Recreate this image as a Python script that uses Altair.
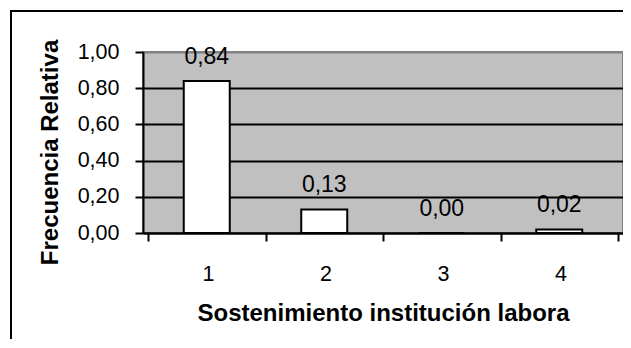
import altair as alt
import pandas as pd

categories = [1, 2, 3, 4]
values = [0.84, 0.13, 0.00, 0.02]
y_ticks = [0.0, 0.2, 0.4, 0.6, 0.8, 1.0]
x_ticks = [0.5, 1.5, 2.5, 3.5, 4.5]

df = pd.DataFrame({"cat": categories, "val": values})
FONT = "Liberation Sans"

base = alt.Chart(df).transform_calculate(
    label="replace(format(datum.val, '.2f'), '.', ',')"
)

x_enc = alt.X(
    "cat:Q",
    scale=alt.Scale(domain=[0.5, 4.5], nice=False, zero=False),
    axis=alt.Axis(
        values=x_ticks,
        tickCount=20,
        grid=False,
        labelExpr="datum.value < 4 ? format(datum.value + 0.5, 'd') : ''",
        labelOffset=60,
        labelPadding=22,
        labelFlush=False,
        labelOverlap=False,
        title="Sostenimiento institución labora",
        titleX=240,
        titleY=87,
        titleAlign="center",
        titleBaseline="alphabetic",
    ),
)
y_enc = alt.Y(
    "val:Q",
    scale=alt.Scale(domain=[0, 1], nice=False),
    axis=alt.Axis(
        values=y_ticks,
        tickCount=20,
        grid=True,
        gridColor={"condition": {"test": "datum.value >= 1", "value": "#808080"}, "value": "#000000"},
        gridWidth=2,
        labelExpr="replace(format(datum.value, '.2f'), '.', ',')",
        labelPadding=16,
        labelOverlap=False,
        labelFlush=False,
        title="Frecuencia Relativa",
        titleAngle=270,
        titleX=-86,
        titleY=100,
        titleAlign="center",
        titleBaseline="alphabetic",
    ),
)

bars = base.mark_bar(size=46, fill="white", stroke="black", strokeWidth=2).encode(x=x_enc, y=y_enc)
labels = base.mark_text(
    dy=-17, baseline="alphabetic", align="center", font=FONT, fontSize=23, color="black"
).encode(x="cat:Q", y="val:Q", text="label:N")

one = alt.Data(values=[{"k": 0}])
border_left = alt.Chart(one).mark_rule(color="black", strokeWidth=2).encode(
    x=alt.value(-132), y=alt.value(-42), y2=alt.value(400)
)
border_top = alt.Chart(one).mark_rule(color="black", strokeWidth=2).encode(
    y=alt.value(-41), x=alt.value(-133), x2=alt.value(600)
)

chart = alt.layer(bars, labels, border_left, border_top).properties(
    width=480,
    height=181,
    autosize=alt.AutoSizeParams(type="none"),
    padding={"left": 135, "top": 44, "right": 0, "bottom": 106},
).configure_view(
    fill="#C0C0C0", stroke="#808080", strokeWidth=2
).configure_axis(
    domainColor="black",
    domainWidth=2,
    tickColor="black",
    tickWidth=2,
    tickSize=8,
    labelFont=FONT,
    labelFontSize=21.5,
    labelColor="black",
    titleFont=FONT,
    titleFontSize=24,
    titleFontWeight="bold",
    titleColor="black",
)

chart.save("out.html", embed_options={"renderer": "svg", "actions": False})
